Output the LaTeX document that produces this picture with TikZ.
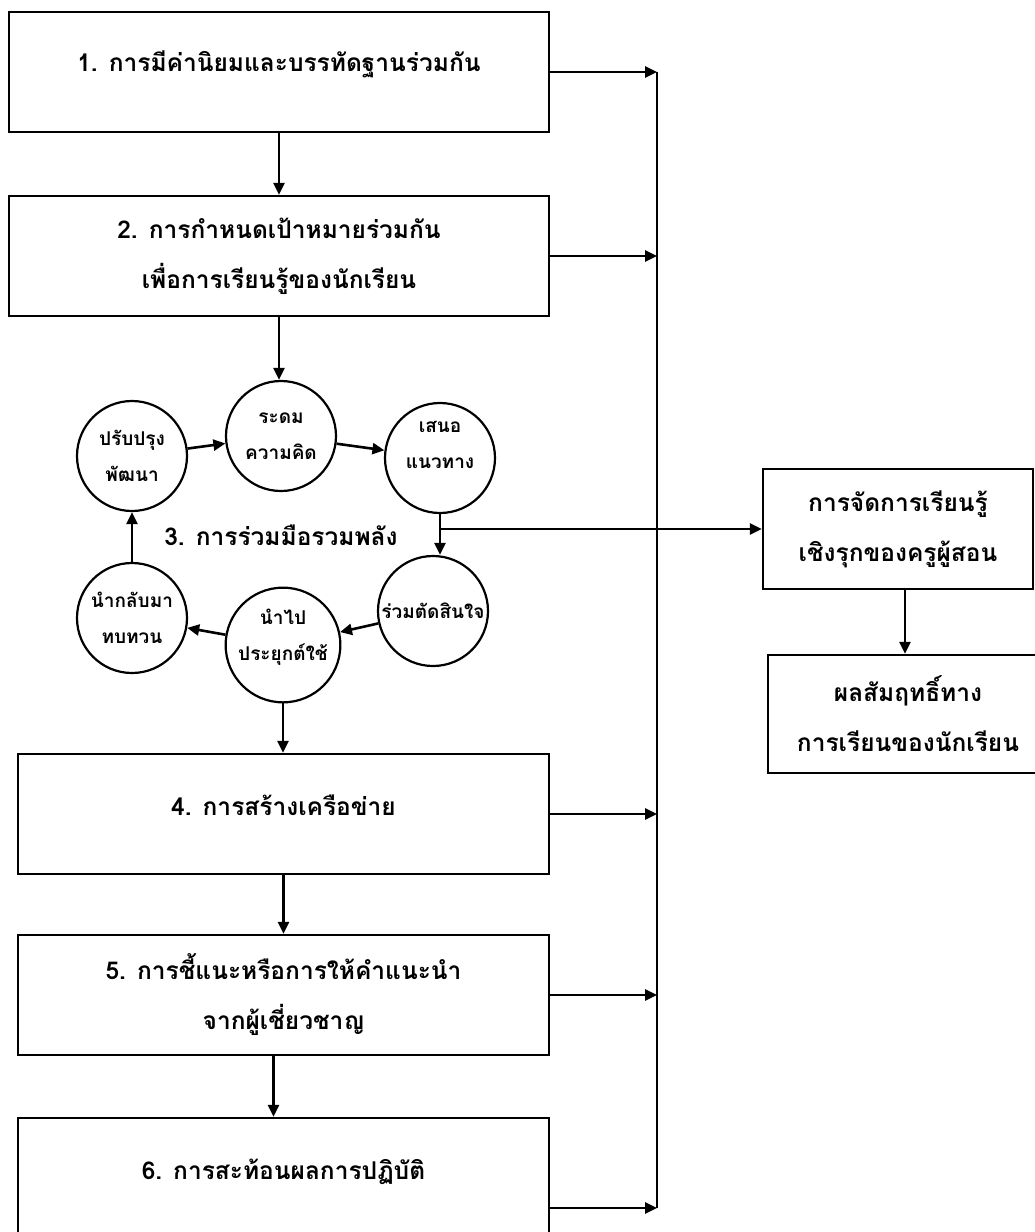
\documentclass[tikz,border=0pt]{standalone}
\usepackage{fontspec}
\newfontfamily\thaifont[Script=Thai]{Loma}
\usetikzlibrary{arrows.meta,calc}
\begin{document}
\begin{tikzpicture}[x=1pt,y=-1pt,
  font=\thaifont\bfseries\fontsize{24.5}{50}\selectfont,
  box/.style={draw, line width=2.2pt, rectangle, align=center, inner sep=0pt},
  txt/.style={inner sep=0pt, align=center},
  circ/.style={draw, line width=2.2pt, circle, minimum size=110pt, inner sep=0pt, align=center,
    font=\thaifont\bfseries\fontsize{19}{36}\selectfont},
  arr/.style={line width=2.6pt, -{Triangle[length=12pt,width=11pt]}},
  ln/.style={line width=2.6pt},
]
\useasboundingbox (0,0) rectangle (1035,1232);
\clip (0,0) rectangle (1035,1232);
\fill[white] (0,0) rectangle (1035,1232);

% main boxes
\node[box, minimum width=540pt, minimum height=120pt] (b1) at (279,72) {};
\node[txt] (t1) at (279,64) {1. การมีค่านิยมและบรรทัดฐานร่วมกัน};
\node[box, minimum width=540pt, minimum height=120pt] (b2) at (279,256) {2. การกำหนดเป้าหมายร่วมกัน\\เพื่อการเรียนรู้ของนักเรียน};
\node[box, minimum width=531pt, minimum height=120pt] (b4) at (283.5,814) {};
\node[txt] (t4) at (283.5,805) {4. การสร้างเครือข่าย};
\node[box, minimum width=531pt, minimum height=120pt] (b5) at (283.5,995) {5. การชี้แนะหรือการให้คำแนะนำ\\จากผู้เชี่ยวชาญ};
\node[box, minimum width=531pt, minimum height=180pt] (b6) at (283.5,1208) {};
\node[txt] (t6) at (283.5,1172) {6. การสะท้อนผลการปฏิบัติ};

% right boxes
\node[box, minimum width=270pt, minimum height=120pt] (ba) at (898,529) {การจัดการเรียนรู้\\เชิงรุกของครูผู้สอน};
\node[box, minimum width=280pt, minimum height=118pt] (bb) at (908,714) {ผลสัมฤทธิ์ทาง\\การเรียนของนักเรียน};

% circles
\node[circ] (c1) at (132,456) {ปรับปรุง\\พัฒนา};
\node[circ] (c2) at (281,436) {ระดม\\ความคิด};
\node[circ] (c3) at (440,458) {เสนอ\\แนวทาง\\[-10pt]};
\node[circ] (c4) at (433,611) {ร่วมตัดสินใจ};
\node[circ] (c5) at (283,645) {นำไป\\ประยุกต์ใช้\\[-16pt]};
\node[circ] (c6) at (132,618) {นำกลับมา\\ทบทวน};
\node[txt] (t3) at (281,535) {3. การร่วมมือรวมพลัง};

% vertical flow
\draw[arr] (b1.south) -- (b1.south |- b2.north);
\draw[arr] (b2.south) -- (b2.south |- c2.north);
\draw[arr] (c5.south) -- (c5.south |- b4.north);
\draw[arr] (b4.south) -- (b4.south |- b5.north);
\draw[arr] ([xshift=-10pt]b5.south) -- ([xshift=-10pt]b5.south |- b6.north);

% cycle
\draw[arr] (c1) -- (c2);
\draw[arr] (c2) -- (c3);
\draw[arr] (c3.south) -- (c3.south |- c4.north);
\draw[arr] (c4) -- (c5);
\draw[arr] (c5) -- (c6);
\draw[arr] (c6) -- (c1);

% right collector
\coordinate (v1) at (657,72);
\coordinate (v6) at (657,1208);
\draw[ln] (v1) -- (v6);
\draw[arr] (b1.east) -- (b1.east -| v1);
\draw[arr] (b2.east) -- (b2.east -| v1);
\draw[arr] (b4.east) -- (b4.east -| v1);
\draw[arr] (b5.east) -- (b5.east -| v1);
\draw[arr] (b6.east) -- (b6.east -| v1);

% to right boxes
\draw[arr] (c3.south |- ba.west) -- (ba.west);
\draw[arr] ([xshift=7pt]ba.south) -- ([xshift=7pt]ba.south |- bb.north);
\end{tikzpicture}
\end{document}
